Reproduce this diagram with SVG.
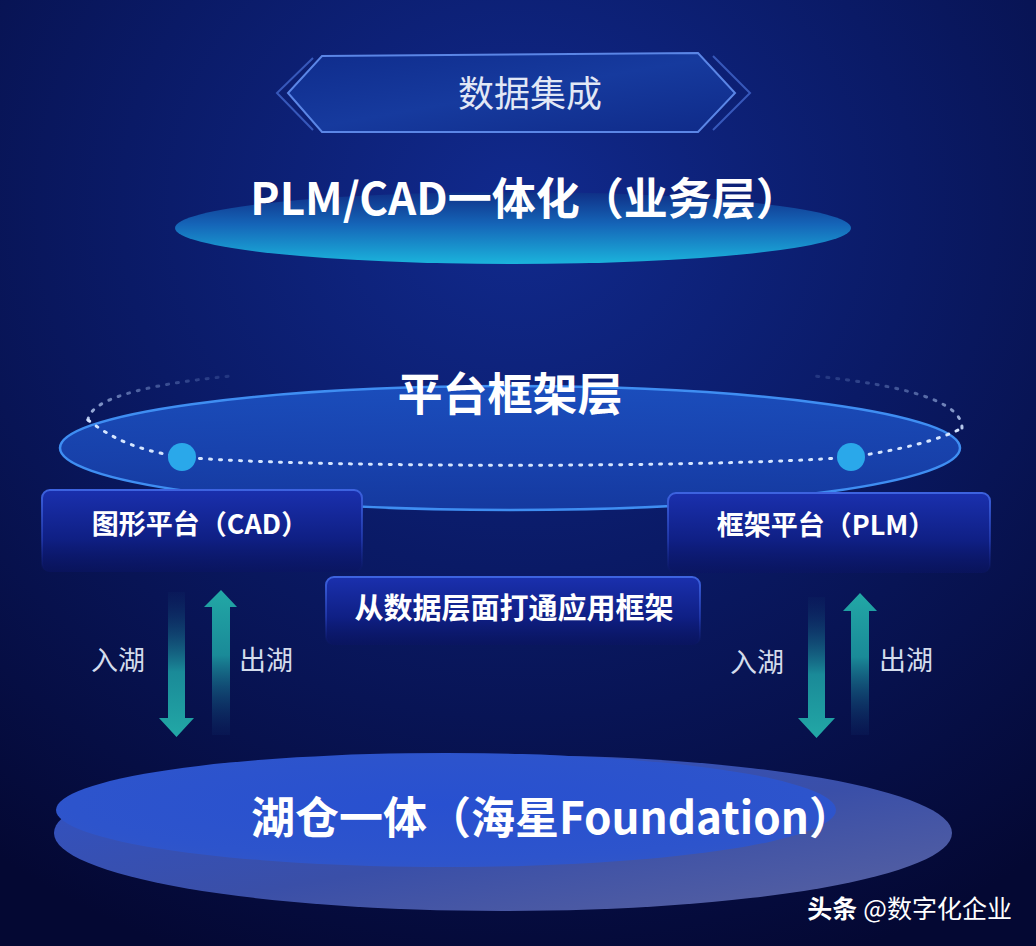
<svg xmlns="http://www.w3.org/2000/svg" width="1036" height="946" viewBox="0 0 1036 946">
<defs>
<radialGradient id="bg" cx="0.5" cy="0.22" r="0.85">
<stop offset="0" stop-color="#112a8e"/>
<stop offset="0.45" stop-color="#0a1a66"/>
<stop offset="1" stop-color="#040833"/>
</radialGradient>
<linearGradient id="hexFill" x1="0" y1="0" x2="1" y2="1">
<stop offset="0" stop-color="#0f2c8c"/>
<stop offset="0.5" stop-color="#163a9e"/>
<stop offset="1" stop-color="#0f2a88"/>
</linearGradient>
<linearGradient id="topEll" x1="0" y1="0" x2="0" y2="1">
<stop offset="0" stop-color="#0f2f86"/>
<stop offset="0.45" stop-color="#1565b8"/>
<stop offset="1" stop-color="#1bb4dc"/>
</linearGradient>
<linearGradient id="platEll" x1="0" y1="0" x2="0" y2="1">
<stop offset="0" stop-color="#1d55c8"/>
<stop offset="0.6" stop-color="#1a48b8"/>
<stop offset="1" stop-color="#163ea8"/>
</linearGradient>
<linearGradient id="boxFill" x1="0" y1="0" x2="0" y2="1">
<stop offset="0" stop-color="#1a30ae"/>
<stop offset="0.6" stop-color="#0f1f84"/>
<stop offset="1" stop-color="#0a1462" stop-opacity="0.6"/>
</linearGradient>
<linearGradient id="boxStroke" x1="0" y1="0" x2="0" y2="1">
<stop offset="0" stop-color="#3d63e0"/>
<stop offset="0.6" stop-color="#2a44c0" stop-opacity="0.6"/>
<stop offset="1" stop-color="#1a2a90" stop-opacity="0"/>
</linearGradient>
<linearGradient id="downArr" x1="0" y1="0" x2="0" y2="1">
<stop offset="0" stop-color="#0c2360" stop-opacity="0.3"/>
<stop offset="0.55" stop-color="#1a8a98"/>
<stop offset="1" stop-color="#22a8a6"/>
</linearGradient>
<linearGradient id="upArr" x1="0" y1="1" x2="0" y2="0">
<stop offset="0" stop-color="#0c2360" stop-opacity="0.3"/>
<stop offset="0.55" stop-color="#1a8a98"/>
<stop offset="1" stop-color="#22a8a6"/>
</linearGradient>
<linearGradient id="botOuter" x1="0" y1="0" x2="1" y2="1">
<stop offset="0" stop-color="#2f52c8"/>
<stop offset="0.55" stop-color="#3a4fa8"/>
<stop offset="1" stop-color="#5a63a0"/>
</linearGradient>
<radialGradient id="botInner" cx="0.5" cy="0.45" r="0.6">
<stop offset="0" stop-color="#2850d0"/>
<stop offset="0.8" stop-color="#2d54cc"/>
<stop offset="1" stop-color="#3156c8"/>
</radialGradient>
<linearGradient id="dotFade" x1="0" y1="0" x2="0" y2="1">
<stop offset="0" stop-color="#a8c8ff" stop-opacity="0.15"/>
<stop offset="1" stop-color="#cfe0ff" stop-opacity="0.9"/>
</linearGradient>
</defs>
<style>
.cjk{font-family:"Noto Sans CJK SC","Noto Sans",sans-serif;}
.bold{font-weight:700;fill:#ffffff;}
.lbl{font-weight:400;fill:#d4dcec;font-size:27px;}
.box{fill:url(#boxFill);stroke:url(#boxStroke);stroke-width:2;}
</style>
<rect x="0" y="0" width="1036" height="946" fill="url(#bg)"/>

<g id="title">
<polyline points="313,58 277,93 313,130" fill="none" stroke="#4a70d8" stroke-width="2" opacity="0.7"/>
<polyline points="713,56 750,93 713,130" fill="none" stroke="#4a70d8" stroke-width="2" opacity="0.7"/>
<polygon points="322,56 698,53 735,93 698,132 322,132 288,93" fill="url(#hexFill)" stroke="#5b86e6" stroke-width="2"/>
<text x="530" y="107" text-anchor="middle" class="cjk" font-size="36" fill="#e2e8f6">数据集成</text>
</g>

<g id="business-layer">
<ellipse cx="513" cy="228" rx="338" ry="36" fill="url(#topEll)"/>
<text x="525" y="215" text-anchor="middle" class="cjk bold" font-size="44">PLM/CAD一体化（业务层）</text>
</g>

<g id="platform-layer">
<ellipse cx="510" cy="448" rx="450" ry="62" fill="url(#platEll)" fill-opacity="0.85" stroke="#3f8ef2" stroke-width="2.5"/>
<path d="M88,420 C120,445 150,452 182,457 C300,468 720,468 851,457 C900,450 940,440 962,428" fill="none" stroke="#d6e6ff" stroke-width="3" stroke-dasharray="2 8" stroke-linecap="round"/>
<path d="M88,420 C90,400 140,385 230,376" fill="none" stroke="url(#dotFade)" stroke-width="3" stroke-dasharray="2 8" stroke-linecap="round"/>
<path d="M962,428 C962,400 900,385 815,376" fill="none" stroke="url(#dotFade)" stroke-width="3" stroke-dasharray="2 8" stroke-linecap="round"/>
<circle cx="182" cy="457" r="14" fill="#2aa8ea"/>
<circle cx="851" cy="457" r="14" fill="#2aa8ea"/>
<text x="510" y="411" text-anchor="middle" class="cjk bold" font-size="45">平台框架层</text>
</g>

<g id="cad-box">
<rect x="42" y="490" width="320" height="82" rx="8" class="box"/>
<text x="200" y="534" text-anchor="middle" class="cjk bold" font-size="27">图形平台（CAD）</text>
</g>

<g id="plm-box">
<rect x="668" y="493" width="322" height="80" rx="8" class="box"/>
<text x="826" y="535" text-anchor="middle" class="cjk bold" font-size="27">框架平台（PLM）</text>
</g>

<g id="middle-box">
<rect x="326" y="577" width="374" height="68" rx="8" class="box"/>
<text x="514" y="619" text-anchor="middle" class="cjk bold" font-size="29">从数据层面打通应用框架</text>
</g>

<g id="connectors">
<polygon points="168,592 185,592 185,718 194,718 176.5,737 159,718 168,718" fill="url(#downArr)"/>
<polygon points="212,735 230,735 230,607 237,607 221,590 204,607 212,607" fill="url(#upArr)"/>
<polygon points="808,597 825,597 825,718 835,718 816.5,738 798,718 808,718" fill="url(#downArr)"/>
<polygon points="851,735 869,735 869,611 877,611 860,593 843,611 851,611" fill="url(#upArr)"/>
<text x="118" y="670" text-anchor="middle" class="cjk lbl">入湖</text>
<text x="266" y="670" text-anchor="middle" class="cjk lbl">出湖</text>
<text x="757" y="672" text-anchor="middle" class="cjk lbl">入湖</text>
<text x="906" y="670" text-anchor="middle" class="cjk lbl">出湖</text>
</g>

<g id="lakehouse">
<ellipse cx="503" cy="833" rx="449" ry="78" fill="url(#botOuter)"/>
<ellipse cx="446" cy="810" rx="390" ry="57" fill="url(#botInner)"/>
<text x="552" y="834" text-anchor="middle" class="cjk bold" font-size="44">湖仓一体（海星Foundation）</text>
</g>

<g id="watermark">
<text x="1012" y="918" text-anchor="end" class="cjk" font-size="25" fill="#ffffff"><tspan font-weight="700">头条</tspan><tspan dx="6">@数字化企业</tspan></text>
</g>
</svg>
